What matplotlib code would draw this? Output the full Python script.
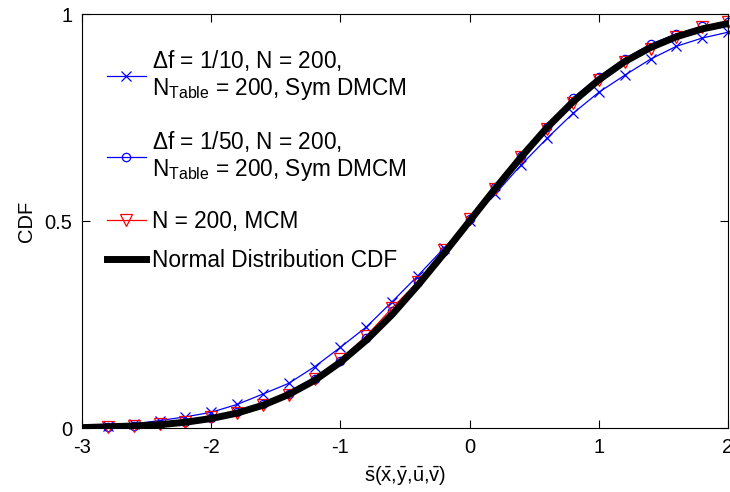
import matplotlib
matplotlib.use("Agg")
import matplotlib.pyplot as plt

plt.rcParams['font.family'] = ['Liberation Sans', 'DejaVu Sans']
plt.rcParams['mathtext.fontset'] = 'custom'
plt.rcParams['mathtext.rm'] = 'Liberation Sans'
plt.rcParams['mathtext.it'] = 'Liberation Sans'
plt.rcParams['axes.unicode_minus'] = False

# sample points of the three simulated CDFs
s_pts = [-2.8, -2.6, -2.4, -2.2, -2.0, -1.8, -1.6, -1.4, -1.2, -1.0, -0.8, -0.6, -0.4,
         -0.2, 0.0, 0.2, 0.4, 0.6, 0.8, 1.0, 1.2, 1.4, 1.6, 1.8, 2.0]

cdf_df10 = [0.004, 0.010, 0.018, 0.027, 0.038, 0.057, 0.082, 0.108, 0.148, 0.195, 0.244, 0.305,
            0.368, 0.434, 0.500, 0.566, 0.636, 0.700, 0.760, 0.811, 0.852, 0.891, 0.922, 0.942, 0.956]
cdf_df50 = [0.003, 0.005, 0.009, 0.015, 0.025, 0.038, 0.057, 0.083, 0.118, 0.163, 0.218, 0.282,
            0.352, 0.428, 0.505, 0.582, 0.658, 0.728, 0.798, 0.848, 0.892, 0.927, 0.952, 0.970, 0.980]
cdf_mcm = [0.002, 0.005, 0.010, 0.015, 0.027, 0.037, 0.056, 0.080, 0.118, 0.167, 0.222, 0.290,
           0.353, 0.430, 0.506, 0.578, 0.655, 0.722, 0.785, 0.840, 0.883, 0.915, 0.945, 0.968, 0.981]

# reference normal distribution
s_norm = [-3.0, -2.8, -2.6, -2.4, -2.2, -2.0, -1.8, -1.6, -1.4, -1.2, -1.0, -0.8, -0.6, -0.4,
          -0.2, 0.0, 0.2, 0.4, 0.6, 0.8, 1.0, 1.2, 1.4, 1.6, 1.8, 2.0]
cdf_norm = [0.001, 0.003, 0.005, 0.008, 0.014, 0.023, 0.036, 0.055, 0.081, 0.115, 0.159, 0.212,
            0.274, 0.345, 0.421, 0.500, 0.579, 0.655, 0.726, 0.788, 0.841, 0.885, 0.919, 0.945,
            0.964, 0.977]

labels = [r'$\Delta$f = 1/10, N = 200,' + '\n' + r'N$_{\mathrm{Table}}$ = 200, Sym DMCM',
          r'$\Delta$f = 1/50, N = 200,' + '\n' + r'N$_{\mathrm{Table}}$ = 200, Sym DMCM',
          'N = 200, MCM',
          'Normal Distribution CDF']

fig = plt.figure(figsize=(7.3, 4.92), dpi=100)
ax = fig.add_axes([0.1123, 0.130, 0.885, 0.8415])

l1, = ax.plot(s_pts, cdf_df10, color='b', lw=0.9, marker='x', ms=7, mew=0.9, clip_on=False)
l2, = ax.plot(s_pts, cdf_df50, color='b', lw=0.9, marker='o', ms=6, mfc='none', mew=0.9, clip_on=False)
l3, = ax.plot(s_pts, cdf_mcm, color='r', lw=0.9, marker='v', ms=8, mfc='none', mew=0.9, clip_on=False)
l4, = ax.plot(s_norm, cdf_norm, color='k', lw=5)

ax.set_xlim(-3, 2)
ax.set_ylim(0, 1)
ax.set_xticks([-3, -2, -1, 0, 1, 2])
ax.set_yticks([0, 0.5, 1])
ax.set_yticklabels(['0', '0.5', '1'])
ax.tick_params(direction='in', top=True, right=True, length=6, width=0.8, labelsize=14.5, pad=7)
for sp in ax.spines.values():
    sp.set_linewidth(0.8)

ax.set_xlabel(r'$\bar{\mathrm{s}}(\bar{\mathrm{x}}{,}\bar{\mathrm{y}}{,}\bar{\mathrm{u}}{,}\bar{\mathrm{v}})$',
              fontsize=14.5, labelpad=5)
ax.set_ylabel('CDF', fontsize=14.5, labelpad=6)

leg_kw = dict(frameon=False, fontsize=16.3, handlelength=1.75, handletextpad=0.28,
              borderpad=0, borderaxespad=0, loc='upper left')
leg1 = ax.legend([l1, l2], labels[:2], bbox_to_anchor=(0.038, 0.918), labelspacing=1.2, **leg_kw)
for t in leg1.get_texts():
    t.set_linespacing(1.16)
ax.add_artist(leg1)
ax.legend([l3, l4], labels[2:], bbox_to_anchor=(0.038, 0.527), labelspacing=0.72, **leg_kw)

fig.savefig('out.png', dpi=100)
